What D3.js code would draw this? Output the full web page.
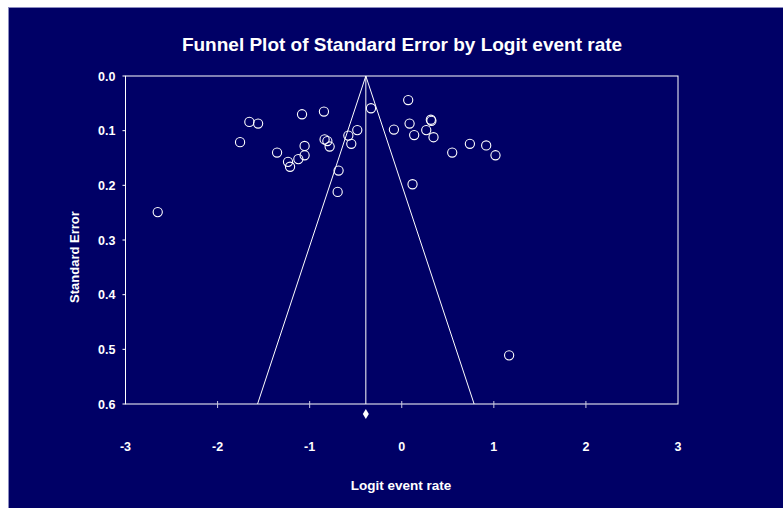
<!DOCTYPE html>
<html lang="en">
<head>
<meta charset="utf-8">
<title>Funnel Plot</title>
<script src="https://cdn.jsdelivr.net/npm/d3@7/dist/d3.min.js"></script>
<style>
  body { margin:0; background:#fff; }
  svg text { font-family: "Liberation Sans", Arial, sans-serif; font-weight:bold; fill:#fff; }
</style>
</head>
<body>
<svg id="chart" width="783" height="508"></svg>
<script>
// study points: logit event rate and standard error
var logitRate = [-2.65, -1.756, -1.655, -1.56, -1.354, -1.235, -1.213, -1.123, -1.083, -1.055, -1.055,
                 -0.845, -0.838, -0.808, -0.783, -0.686, -0.696, -0.58, -0.548, -0.483, -0.334, -0.085,
                 0.07, 0.085, 0.135, 0.316, 0.322, 0.266, 0.345, 0.548, 0.74, 0.917, 1.018, 0.117, 1.166]
var stdErr = [0.249, 0.121, 0.084, 0.087, 0.140, 0.157, 0.166, 0.152, 0.070, 0.128, 0.145,
              0.065, 0.116, 0.119, 0.129, 0.173, 0.212, 0.109, 0.124, 0.099, 0.059, 0.098,
              0.044, 0.087, 0.108, 0.080, 0.082, 0.099, 0.112, 0.140, 0.124, 0.127, 0.145, 0.198, 0.511]
var meanEffect = -0.39
var xTicks = [-3, -2, -1, 0, 1, 2, 3]
var yTicks = [0.0, 0.1, 0.2, 0.3, 0.4, 0.5, 0.6]

var svg = d3.select("#chart")

// background
svg.append("rect").attr("x", 8).attr("y", 7).attr("width", 775).attr("height", 501)
  .attr("fill", "#000066")
svg.append("line").attr("x1", 8).attr("x2", 783).attr("y1", 7.5).attr("y2", 7.5)
  .attr("stroke", "#8c8cc0").attr("stroke-width", 1)
svg.append("line").attr("x1", 8.5).attr("x2", 8.5).attr("y1", 7).attr("y2", 508)
  .attr("stroke", "#8c8cc0").attr("stroke-width", 1)

// plot box (names avoid window.top)
var pLeft = 125.5, pRight = 678, pTop = 76, pBottom = 404

var x = d3.scaleLinear().domain([-3, 3]).range([pLeft, pRight])
var y = d3.scaleLinear().domain([0, 0.6]).range([pTop, pBottom])

// frame
svg.append("rect").attr("x", pLeft).attr("y", pTop)
  .attr("width", pRight - pLeft).attr("height", pBottom - pTop)
  .attr("fill", "none").attr("stroke", "#fff").attr("stroke-width", 1)

// y axis ticks + labels
var yAxis = svg.append("g")
yTicks.forEach(function(t) {
  yAxis.append("line").attr("x1", pLeft - 3).attr("x2", pLeft).attr("y1", y(t)).attr("y2", y(t))
    .attr("stroke", "#fff")
  yAxis.append("text").attr("x", pLeft - 10).attr("y", y(t) + 4.5)
    .attr("text-anchor", "end").attr("font-size", "12.5px").text(d3.format(".1f")(t))
})

// x axis ticks + labels
var xAxis = svg.append("g")
xTicks.forEach(function(t) {
  if (t > -3 && t < 3) {
    xAxis.append("line").attr("x1", x(t)).attr("x2", x(t)).attr("y1", pBottom - 3).attr("y2", pBottom + 4)
      .attr("stroke", "#c8c8e0")
  }
  xAxis.append("text").attr("x", x(t)).attr("y", 451)
    .attr("text-anchor", "middle").attr("font-size", "12.5px").text(t)
})

// funnel
var seMax = 0.6
svg.append("path")
  .attr("d", d3.line()([[x(meanEffect - 1.96 * seMax), y(seMax)], [x(meanEffect), y(0)], [x(meanEffect + 1.96 * seMax), y(seMax)]]))
  .attr("fill", "none").attr("stroke", "#fff").attr("stroke-width", 1)
svg.append("line").attr("x1", x(meanEffect)).attr("x2", x(meanEffect))
  .attr("y1", y(0)).attr("y2", y(seMax)).attr("stroke", "#fff").attr("stroke-width", 1)

// studies
svg.append("g").selectAll("circle")
  .data(logitRate)
  .enter().append("circle")
  .attr("cx", function(d) { return x(d) })
  .attr("cy", function(d, i) { return y(stdErr[i]) })
  .attr("r", 4.6)
  .attr("fill", "none").attr("stroke", "#fff").attr("stroke-width", 1.1)

// summary diamond
var dx = x(meanEffect), dy = 414
svg.append("path")
  .attr("d", "M" + dx + "," + (dy - 5) + "L" + (dx + 3) + "," + dy + "L" + dx + "," + (dy + 5) + "L" + (dx - 3) + "," + dy + "Z")
  .attr("fill", "#fff")

// titles
svg.append("text").attr("x", 402).attr("y", 51).attr("text-anchor", "middle")
  .attr("font-size", "19px").text("Funnel Plot of Standard Error by Logit event rate")
svg.append("text").attr("x", 401).attr("y", 490).attr("text-anchor", "middle")
  .attr("font-size", "13.5px").text("Logit event rate")
svg.append("text").attr("transform", "translate(79,257) rotate(-90)").attr("text-anchor", "middle")
  .attr("font-size", "13px").text("Standard Error")
</script>
</body>
</html>
